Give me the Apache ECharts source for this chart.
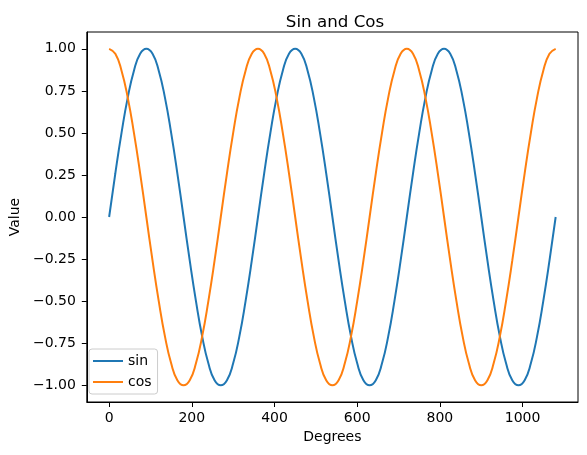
<!DOCTYPE html>
<html>
<head>
<meta charset="utf-8">
<script src="https://cdn.jsdelivr.net/npm/echarts@6/dist/echarts.min.js"></script>
<style>
  html, body { margin: 0; padding: 0; background: #fff; }
  #app { width: 587px; height: 455px; }
</style>
</head>
<body>
<div id="app"></div>
<script>
// degrees sampled every 15
const degrees = [
  0, 15, 30, 45, 60, 75, 90, 105, 120, 135, 150, 165,
  180, 195, 210, 225, 240, 255, 270, 285, 300, 315, 330, 345,
  360, 375, 390, 405, 420, 435, 450, 465, 480, 495, 510, 525,
  540, 555, 570, 585, 600, 615, 630, 645, 660, 675, 690, 705,
  720, 735, 750, 765, 780, 795, 810, 825, 840, 855, 870, 885,
  900, 915, 930, 945, 960, 975, 990, 1005, 1020, 1035, 1050, 1065,
  1080
];

const sinValues = [
  0, 0.26, 0.5, 0.71, 0.87, 0.97, 1, 0.97, 0.87, 0.71, 0.5, 0.26,
  0, -0.26, -0.5, -0.71, -0.87, -0.97, -1, -0.97, -0.87, -0.71, -0.5, -0.26,
  0, 0.26, 0.5, 0.71, 0.87, 0.97, 1, 0.97, 0.87, 0.71, 0.5, 0.26,
  0, -0.26, -0.5, -0.71, -0.87, -0.97, -1, -0.97, -0.87, -0.71, -0.5, -0.26,
  0, 0.26, 0.5, 0.71, 0.87, 0.97, 1, 0.97, 0.87, 0.71, 0.5, 0.26,
  0, -0.26, -0.5, -0.71, -0.87, -0.97, -1, -0.97, -0.87, -0.71, -0.5, -0.26,
  0
];

const cosValues = [
  1, 0.97, 0.87, 0.71, 0.5, 0.26, 0, -0.26, -0.5, -0.71, -0.87, -0.97,
  -1, -0.97, -0.87, -0.71, -0.5, -0.26, 0, 0.26, 0.5, 0.71, 0.87, 0.97,
  1, 0.97, 0.87, 0.71, 0.5, 0.26, 0, -0.26, -0.5, -0.71, -0.87, -0.97,
  -1, -0.97, -0.87, -0.71, -0.5, -0.26, 0, 0.26, 0.5, 0.71, 0.87, 0.97,
  1, 0.97, 0.87, 0.71, 0.5, 0.26, 0, -0.26, -0.5, -0.71, -0.87, -0.97,
  -1, -0.97, -0.87, -0.71, -0.5, -0.26, 0, 0.26, 0.5, 0.71, 0.87, 0.97,
  1
];

const xTicks = [0, 200, 400, 600, 800, 1000];
const yTicks = [-1, -0.75, -0.5, -0.25, 0, 0.25, 0.5, 0.75, 1];

const font = "DejaVu Sans";

function pairs(xs, ys) {
  return xs.map((x, i) => [x, ys[i]]);
}

function makeSeries(name, values, color) {
  return {
    name,
    type: "line",
    data: pairs(degrees, values),
    smooth: true,
    showSymbol: false,
    lineStyle: { color, width: 2 },
    itemStyle: { color },
    animation: false
  };
}

const chart = echarts.init(document.getElementById("app"));
chart.setOption({
  backgroundColor: "#fff",
  animation: false,
  title: {
    text: "Sin and Cos",
    left: 330,
    top: 9,
    textAlign: "center",
    textStyle: { fontFamily: font, fontSize: 16.7, fontWeight: "normal", color: "#000" }
  },
  legend: {
    orient: "vertical",
    left: 89,
    bottom: 61,
    padding: [4, 6, 4, 4],
    itemWidth: 30,
    itemHeight: 2,
    itemGap: 5,
    itemTextGap: 12,
    icon: "rect",
    backgroundColor: "rgba(255,255,255,0.8)",
    borderColor: "#cccccc",
    borderWidth: 1,
    borderRadius: 3,
    textStyle: { fontFamily: font, fontSize: 14, color: "#000", lineHeight: 16 },
    data: ["sin", "cos"]
  },
  grid: {
    left: 83,
    right: 9,
    top: 32,
    bottom: 53,
    show: true,
    borderColor: "#000",
    borderWidth: 1,
    containLabel: false
  },
  xAxis: {
    type: "value",
    min: -54,
    max: 1134,
    name: "Degrees",
    nameLocation: "middle",
    nameGap: 26,
    nameTextStyle: { fontFamily: font, fontSize: 14, color: "#000" },
    axisLine: { show: true, onZero: false, lineStyle: { color: "#000", width: 1 } },
    splitLine: { show: false },
    axisTick: { show: true, inside: false, length: 5, lineStyle: { color: "#000" }, customValues: xTicks },
    axisLabel: {
      fontFamily: font, fontSize: 14, color: "#000", margin: 9,
      customValues: xTicks,
      formatter: v => String(v)
    }
  },
  yAxis: {
    type: "value",
    min: -1.1,
    max: 1.1,
    name: "Value",
    nameLocation: "middle",
    nameGap: 62,
    nameTextStyle: { fontFamily: font, fontSize: 14, color: "#000" },
    axisLine: { show: true, onZero: false, lineStyle: { color: "#000", width: 1 } },
    splitLine: { show: false },
    axisTick: { show: true, inside: false, length: 5, lineStyle: { color: "#000" }, customValues: yTicks },
    axisLabel: {
      fontFamily: font, fontSize: 14, color: "#000", margin: 11,
      customValues: yTicks,
      formatter: v => v.toFixed(2).replace("-", "\u2212")
    }
  },
  series: [
    makeSeries("sin", sinValues, "#1f77b4"),
    makeSeries("cos", cosValues, "#ff7f0e")
  ]
});
</script>
</body>
</html>
